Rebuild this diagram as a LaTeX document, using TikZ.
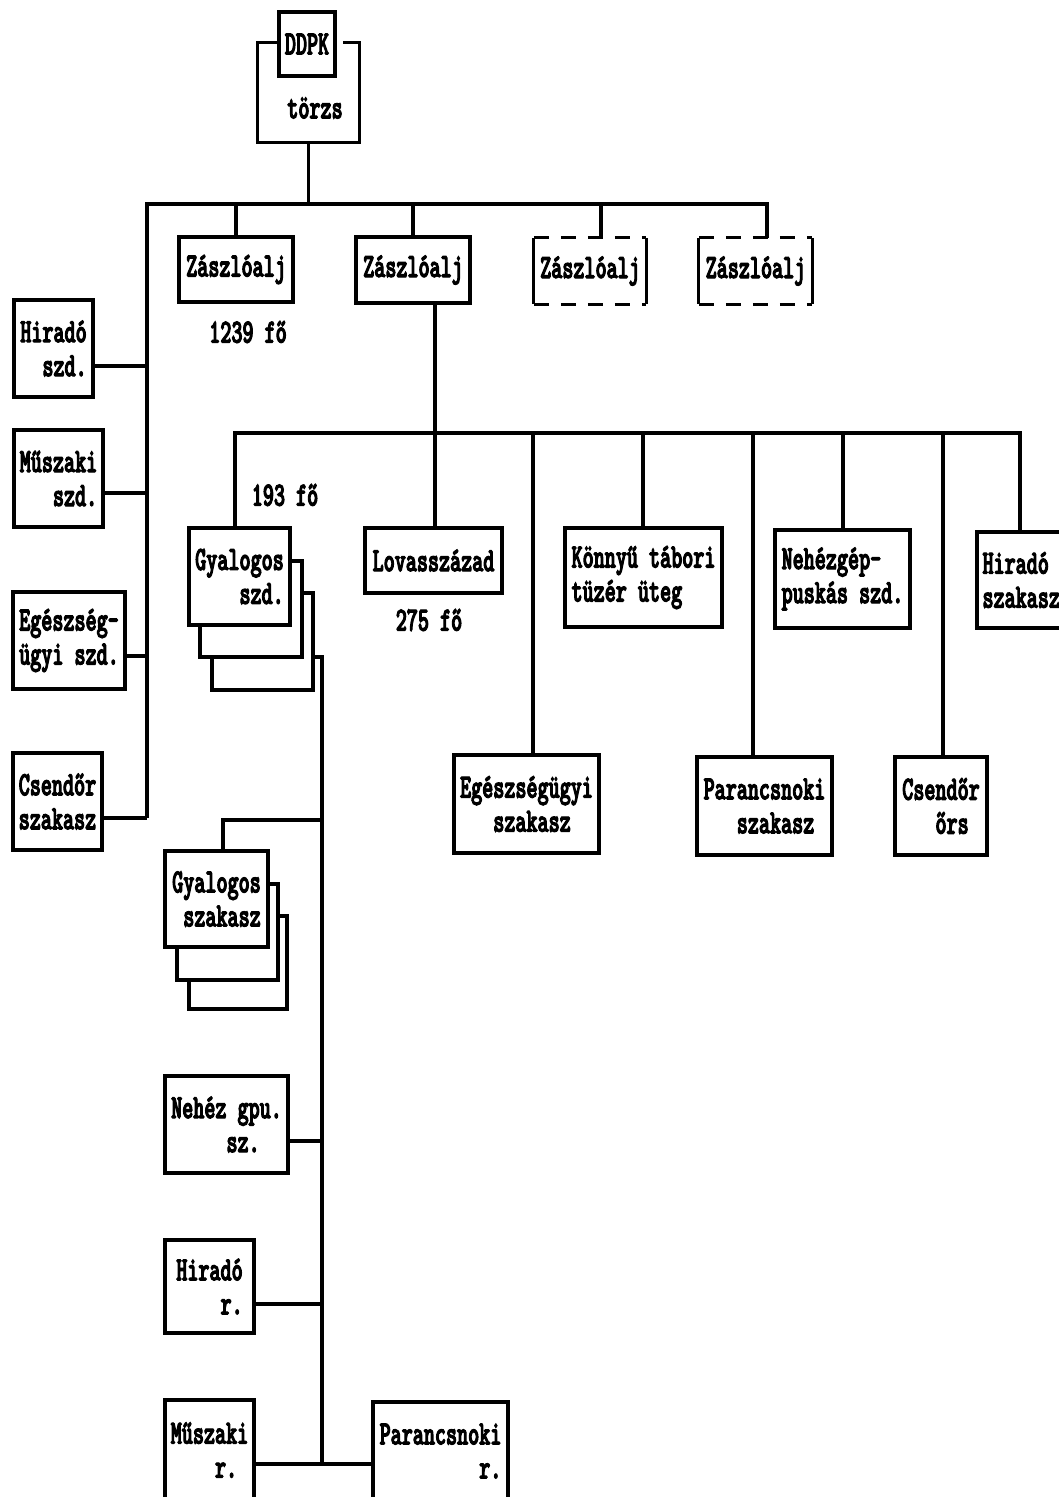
\documentclass[tikz,border=0pt]{standalone}
\usepackage{fontspec}
\newfontfamily\lblfont{lmmonolt10-bold}[Extension=.otf,FakeStretch=0.62,FakeBold=3]
\usetikzlibrary{calc}
\tikzset{
  ln/.style={line width=3.2pt},
  txt/.style={inner sep=0pt, font=\lblfont\fontsize{34}{34}\selectfont},
  box/.style={txt, draw, line width=3.2pt, align=center},
  dbox/.style={txt, align=center},
  dsh/.style={line width=3.2pt, dash pattern=on 15pt off 12pt}
}
\begin{document}
\begin{tikzpicture}[x=1pt,y=-1pt]
\useasboundingbox (0,0) rectangle (1059,1497);

% top
\node[minimum width=101, minimum height=99] (torzs) at (308.5,92.5) {};
\node[txt] (torzstxt) at (315,108) {törzs};
\node[box, minimum width=56, minimum height=64] (ddpk) at (307,44) {DDPK};
\draw[ln] (ddpk.west |- torzs.north) -- (torzs.north west) -- (torzs.south west)
  -- (torzs.south east) -- (torzs.north east) -- ([xshift=-16pt]torzs.north east);

% battalions
\node[box, minimum width=114, minimum height=65] (z1) at (236,269.5) {Zászlóalj};
\node[box, minimum width=114, minimum height=66] (z2) at (413,270) {Zászlóalj};
\node[dbox, minimum width=112, minimum height=66] (z3) at (590,271) {Zászlóalj};
\node[dbox, minimum width=113, minimum height=66] (z4) at (755.5,271) {Zászlóalj};
\foreach \n in {z3,z4}{
  \draw[ln] (\n.north west) -- (\n.south west);
  \draw[ln] (\n.north east) -- (\n.south east);
  \draw[dsh] (\n.north west) -- (\n.north east);
  \draw[dsh] (\n.south west) -- (\n.south east);
}
\node[txt] (n1239) at (248,332) {1239 fő};

% left column
\node[box, minimum width=79, minimum height=97, align=right] (hsz) at (53.5,348.5) {Hiradó\\szd.};
\node[box, minimum width=89, minimum height=97, align=right] (msz) at (58.5,478.5) {Műszaki\\szd.};
\node[box, minimum width=112, minimum height=97, align=left] (esz) at (69,640.5) {Egészség-\\ügyi szd.};
\node[box, minimum width=89, minimum height=97, align=left] (csz) at (57.5,801.5) {Csendőr\\szakasz};

% bus 1
\coordinate (b1L) at (147,204);
\coordinate (b1R) at (767,204);
\coordinate (b1c) at (601,204);
\coordinate (l1) at (147,366);
\coordinate (l2) at (147,493);
\coordinate (l3) at (147,656);
\coordinate (l4) at (147,818);
\draw[ln] (torzs.south) -- (torzs.south |- b1L);
\draw[ln] (l4) -- (b1L) -- (b1R) -- (b1R |- z4.north);
\draw[ln] (z1.north) -- (z1.north |- b1L);
\draw[ln] (z2.north) -- (z2.north |- b1L);
\draw[ln] (b1c) -- (b1c |- z3.north);
\draw[ln] (l1 -| hsz.east) -- (l1);
\draw[ln] (l2 -| msz.east) -- (l2);
\draw[ln] (l3 -| esz.east) -- (l3);
\draw[ln] (l4 -| csz.east) -- (l4);

% second level
\node[box, minimum width=101, minimum height=97, align=right] (gsz) at (239.5,576.5) {Gyalogos\\szd.};
\node[box, minimum width=137, minimum height=65] (lov) at (433.5,560.5) {Lovasszázad};
\node[box, minimum width=157, minimum height=99, align=left] (konny) at (643.5,577.5) {Könnyű tábori\\tüzér üteg};
\node[box, minimum width=135, minimum height=98, align=left] (neh) at (842.5,579) {Nehézgép-\\puskás szd.};
\node[box, minimum width=91, minimum height=96, align=left, text width=80pt] (hirsz) at (1022.5,580) {Hiradó\\szakasz};
\node[box, minimum width=145, minimum height=98, align=left] (egsz) at (526.5,804) {Egészségügyi\\~~~szakasz};
\node[box, minimum width=135, minimum height=98, align=left] (parsz) at (764.5,806) {Parancsnoki\\~~~szakasz};
\node[box, minimum width=92, minimum height=98, align=left] (csors) at (941,806) {Csendőr\\~~~őrs};
\node[txt] (n193) at (285,495) {193 fő};
\node[txt] (n275) at (429,620) {275 fő};

% bus 2
\coordinate (b2L) at (235,433);
\coordinate (b2m) at (435,433);
\coordinate (b2R) at (1020,433);
\coordinate (v3) at (533,433);
\coordinate (v4) at (643,433);
\coordinate (v5) at (753,433);
\coordinate (v6) at (843,433);
\coordinate (v7) at (943,433);
\draw[ln] (b2m |- z2.south) -- (b2m) -- (b2m |- lov.north);
\draw[ln] (b2L |- gsz.north) -- (b2L) -- (b2R) -- (b2R |- hirsz.north);
\draw[ln] (v3) -- (v3 |- egsz.north);
\draw[ln] (v4) -- (v4 |- konny.north);
\draw[ln] (v5) -- (v5 |- parsz.north);
\draw[ln] (v6) -- (v6 |- neh.north);
\draw[ln] (v7) -- (v7 |- csors.north);

% stacked company boxes
\draw[ln] (290,561) -- (302,561) -- (302,657) -- (200,657) -- (200,625);
\draw[ln] (302,593) -- (313,593) -- (313,690) -- (212,690) -- (212,657);

% third level
\node[box, minimum width=103, minimum height=96, align=right] (gsk) at (216.5,899) {Gyalogos\\szakasz};
\draw[ln] (268,884) -- (278,884) -- (278,980) -- (177,980) -- (177,947);
\draw[ln] (278,916) -- (287,916) -- (287,1009) -- (189,1009) -- (189,980);
\node[box, minimum width=123, minimum height=97, align=left] (ngp) at (226.5,1124.5) {Nehéz gpu.\\~~~~~sz.};
\node[box, minimum width=89, minimum height=93, align=right] (hr) at (209.5,1286.5) {Hiradó\\r.};
\node[box, minimum width=89, minimum height=100, align=left] (mr) at (209.5,1450) {Műszaki\\~~~~r.};
\node[box, minimum width=135, minimum height=98, align=right] (pr) at (440.5,1451) {Parancsnoki\\r.};

\coordinate (s1) at (313,657);
\coordinate (c1) at (322,657);
\coordinate (c2) at (322,820);
\coordinate (c2a) at (223,820);
\coordinate (c3) at (322,1141);
\coordinate (c4) at (322,1304);
\coordinate (c5) at (322,1464);
\draw[ln] (s1) -- (c1) -- (c5);
\draw[ln] (c2) -- (c2a) -- (c2a |- gsk.north);
\draw[ln] (c3 -| ngp.east) -- (c3);
\draw[ln] (c4 -| hr.east) -- (c4);
\draw[ln] (c5 -| mr.east) -- (c5 -| pr.west);
\end{tikzpicture}
\end{document}
